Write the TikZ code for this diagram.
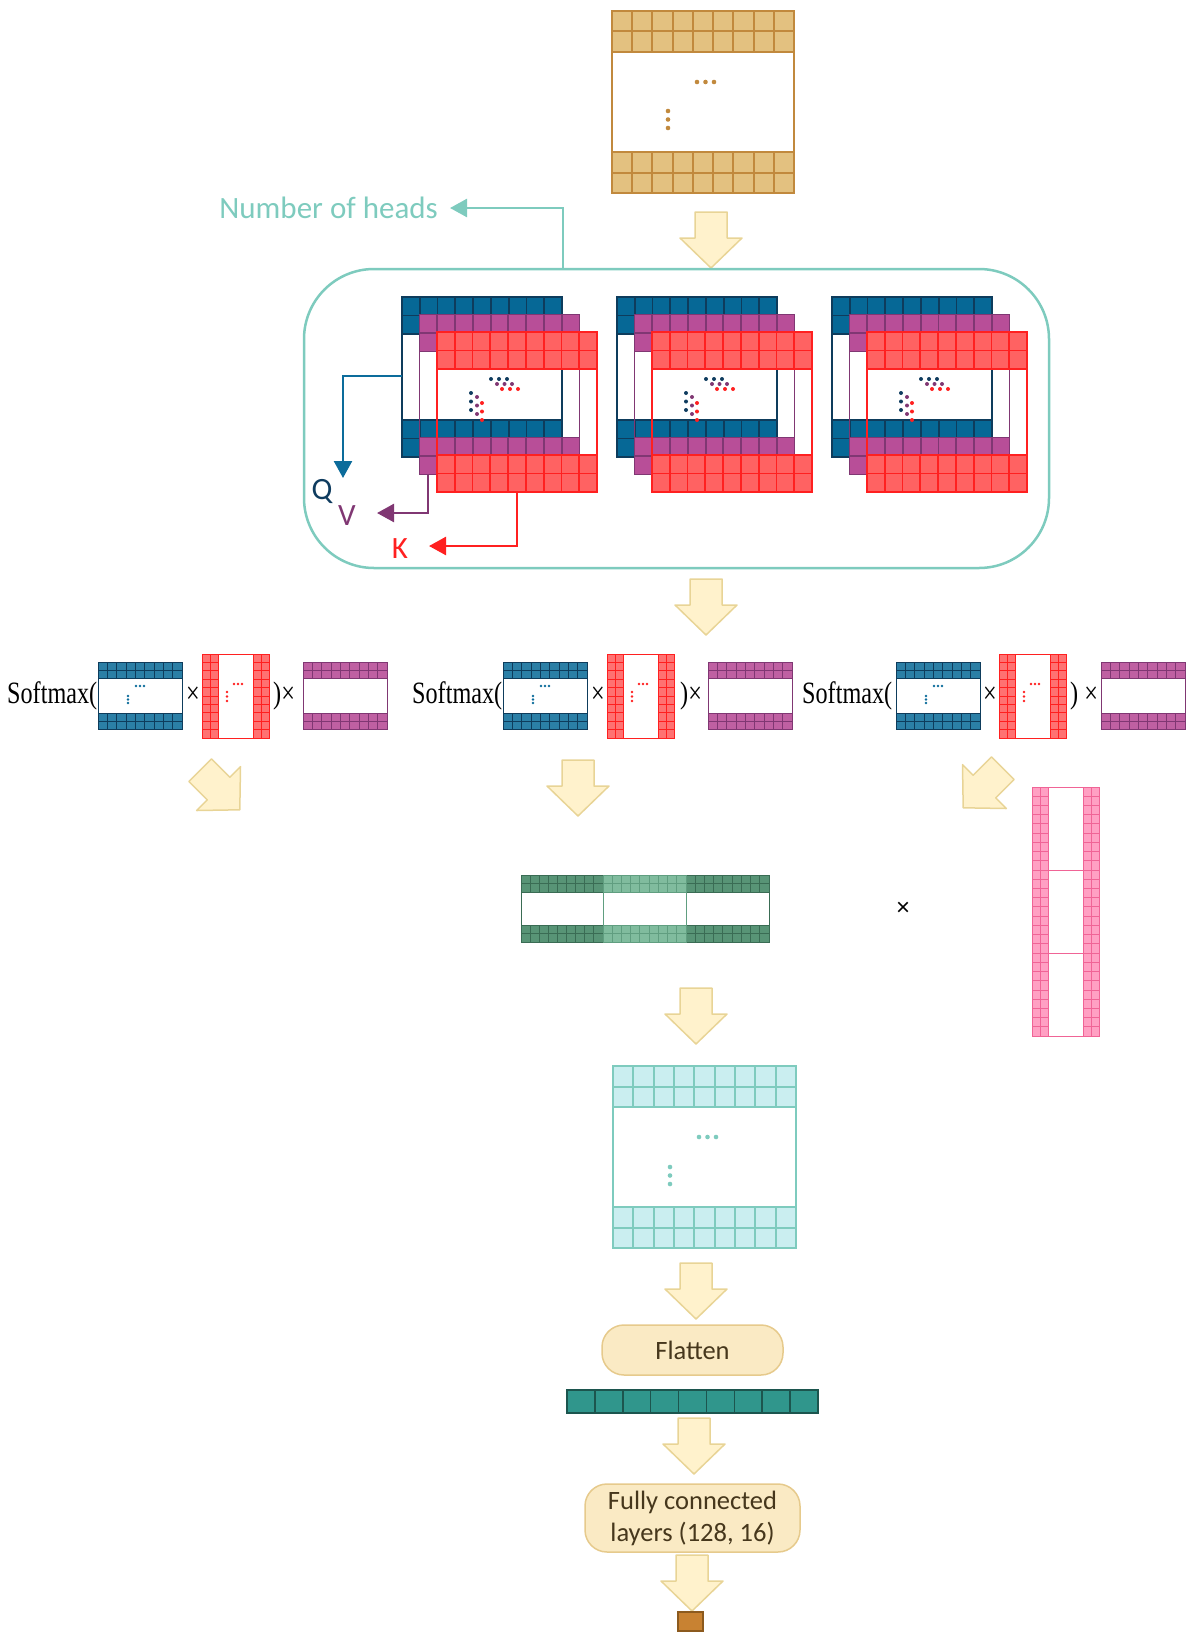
\documentclass[tikz,border=0pt]{standalone}
\usepackage{fontspec}
\setmainfont{Carlito}
\newfontfamily\softfont[FakeStretch=0.78]{Liberation Serif}
\newfontfamily\crossfont{Liberation Sans}
\usetikzlibrary{arrows.meta}

\definecolor{goldfill}{RGB}{227,193,128}
\definecolor{goldline}{RGB}{193,137,61}
\definecolor{bluefill}{RGB}{6,104,150}
\definecolor{blueline}{RGB}{14,60,92}
\definecolor{purpfill}{RGB}{184,78,152}
\definecolor{purpline}{RGB}{128,55,115}
\definecolor{redfill}{RGB}{255,98,98}
\definecolor{redline}{RGB}{255,32,32}
\definecolor{pinkfill}{RGB}{255,160,195}
\definecolor{pinkline}{RGB}{240,100,150}
\definecolor{greenfill}{RGB}{88,148,118}
\definecolor{greenline}{RGB}{58,108,84}
\definecolor{lgreenfill}{RGB}{128,188,158}
\definecolor{lgreenline}{RGB}{96,158,128}
\definecolor{cyanfill}{RGB}{202,238,240}
\definecolor{tealline}{RGB}{126,203,190}
\definecolor{vecfill}{RGB}{48,150,140}
\definecolor{vecline}{RGB}{28,85,78}
\definecolor{outfill}{RGB}{200,130,50}
\definecolor{outline}{RGB}{140,90,30}
\definecolor{arrowfill}{RGB}{255,242,204}
\definecolor{arrowline}{RGB}{232,212,150}
\definecolor{boxfill}{RGB}{250,234,196}
\definecolor{boxline}{RGB}{230,202,140}
\definecolor{boxtext}{RGB}{70,55,28}
\definecolor{qcolor}{RGB}{15,60,95}
\definecolor{qarrow}{RGB}{12,108,155}

% cells: [style] x0 y0 x1 y1 cols rows
\newcommand{\cells}[7][]{%
  \pgfmathsetmacro\cellw{((#4)-(#2))/#6}%
  \pgfmathsetmacro\cellh{((#5)-(#3))/#7}%
  \filldraw[#1] ({#2},{#3}) rectangle ({#4},{#5});
  \foreach \k in {1,...,#6}
    \draw[#1] ({#2+\k*\cellw},{#3}) -- ({#2+\k*\cellw},{#5});
  \foreach \k in {1,...,#7}
    \draw[#1] ({#2},{#3+\k*\cellh}) -- ({#4},{#3+\k*\cellh});
}
% bands on top and bottom: [style] x0 y0 x1 y1 band cols rows
\newcommand{\hmat}[8][]{%
  \cells[#1]{#2}{#3}{#4}{#3+#6}{#7}{#8}
  \cells[#1]{#2}{#5-#6}{#4}{#5}{#7}{#8}
  \draw[#1,fill=none] ({#2},{#3}) rectangle ({#4},{#5});
}
% bands left and right: [style] x0 y0 x1 y1 band cols rows
\newcommand{\vmat}[8][]{%
  \cells[#1]{#2}{#3}{#2+#6}{#5}{#7}{#8}
  \cells[#1]{#4-#6}{#3}{#4}{#5}{#7}{#8}
  \draw[#1,fill=none] ({#2},{#3}) rectangle ({#4},{#5});
}
% block arrow: [angle] x y
\newcommand{\fatarrow}[3][0]{%
  \draw[blockarrow,shift={(#2,#3)},rotate=#1]
    (-16,-28) -- (16,-28) -- (16,-2) -- (31,-2) -- (0,28) -- (-31,-2) -- (-16,-2) -- cycle;
}
% one softmax term: text, Q, times, K, close, V, close text, name
\newcommand{\softgroup}[8]{%
  \node[softtext,anchor=base west] (#8soft) at (#1,703) {Softmax(};
  \hmat[bluesmall]{#2}{662}{#2+84}{729}{16}{9}{2}
  \fill[qarrow] \foreach \px in {38,42,46} {(#2+\px,686) circle[radius=1.3]};
  \fill[qarrow] \foreach \py in {696,699.5,703} {(#2+30,\py) circle[radius=1.3]};
  \node[softtext,anchor=base] (#8times) at (#3,703) {×};
  \vmat[redsmall]{#4}{654}{#4+67}{738}{16}{2}{10}
  \fill[redline] \foreach \px in {32,36,40} {(#4+\px,684) circle[radius=1.3]};
  \fill[redline] \foreach \py in {692,696.5,701} {(#4+25,\py) circle[radius=1.3]};
  \node[softtext,anchor=base west] (#8close) at (#5,703) {#7};
  \hmat[purpsmall]{#6}{662}{#6+84}{729}{16}{9}{2}
}

\begin{document}
\begin{tikzpicture}[x=1pt,y=-1pt,
  every node/.style={inner sep=0pt},
  goldcell/.style={fill=goldfill,draw=goldline,line width=2pt},
  tealcell/.style={fill=cyanfill,draw=tealline,line width=2pt},
  bluecell/.style={fill=bluefill,draw=blueline,line width=1.8pt},
  purpcell/.style={fill=purpfill,draw=purpline,line width=1.8pt},
  redcell/.style={fill=redfill,draw=redline,line width=1.8pt},
  bluesmall/.style={fill=bluefill!85!white,draw=blueline,line width=0.8pt},
  redsmall/.style={fill=redfill!90!white,draw=redline,line width=0.8pt},
  purpsmall/.style={fill=purpfill!90!white,draw=purpline,line width=0.8pt},
  greencell/.style={fill=greenfill,draw=greenline,line width=0.8pt},
  lgreencell/.style={fill=lgreenfill,draw=lgreenline,line width=0.8pt},
  pinkcell/.style={fill=pinkfill,draw=pinkline,line width=0.8pt},
  veccell/.style={fill=vecfill,draw=vecline,line width=1.5pt},
  blockarrow/.style={fill=arrowfill,draw=arrowline,line width=1.5pt,line join=round},
  headbox/.style={draw=tealline,line width=2.5pt,rounded corners=70pt,minimum width=745pt,minimum height=299pt},
  stagebox/.style={draw=boxline,fill=boxfill,line width=1.5pt,rounded corners=22pt,text=boxtext,
    font=\fontsize{26.5}{32}\selectfont,align=center},
  softtext/.style={font=\softfont\fontsize{31}{36}\selectfont},
  labeltext/.style={font=\fontsize{31}{36}\selectfont},
  headarrow/.style={line width=2.5pt,-{Triangle[length=17pt,width=18pt]}},
]
\useasboundingbox (0,0) rectangle (1204,1646);

% input
\hmat[goldcell]{612}{11}{794}{193}{41}{9}{2}
\fill[goldline] \foreach \px in {697,705.5,714} {(\px,82) circle[radius=2.3]};
\fill[goldline] \foreach \py in {111,119.5,128} {(668,\py) circle[radius=2.3]};
\fatarrow{711}{240}

% heads
\node[headbox] (heads) at (676.5,418.5) {};
\node[labeltext,text=tealline,anchor=east,inner xsep=12pt] (nheads) at (450,208) {Number of heads};
\coordinate (nhfoot) at (563,269);
\draw[headarrow,tealline] (nhfoot) |- (nheads.east);

\foreach \ox in {0,215,430}{
  \hmat[bluecell]{402+\ox}{297}{562+\ox}{457}{37}{9}{2}
  \hmat[purpcell]{419.5+\ox}{314.5}{579.5+\ox}{474.5}{37}{9}{2}
  \hmat[redcell]{437+\ox}{332}{597+\ox}{492}{37}{9}{2}
  \fill[qcolor] \foreach \px in {491,499,507} {(\px+\ox,379) circle[radius=2]};
  \fill[purpline] \foreach \px in {497,504.5,512} {(\px+\ox,384) circle[radius=2]};
  \fill[redline] \foreach \px in {502,510,518} {(\px+\ox,389) circle[radius=2]};
  \fill[qcolor] \foreach \py in {393,401.5,410} {(471+\ox,\py) circle[radius=2]};
  \fill[purpline] \foreach \py in {397,405.5,414} {(477+\ox,\py) circle[radius=2]};
  \fill[redline] \foreach \py in {403,411.5,420} {(482+\ox,\py) circle[radius=2]};
}

\node[labeltext,text=qcolor] (qlabel) at (322,491) {Q};
\node[labeltext,text=purpline] (vlabel) at (347,516) {V};
\node[labeltext,text=redline] (klabel) at (400,549) {K};
\coordinate (qfrom) at (402,376);
\coordinate (qto) at (343,478);
\coordinate (vfrom) at (428,474.5);
\coordinate (vto) at (377,513);
\coordinate (kfrom) at (517,492);
\coordinate (kto) at (429,546);
\draw[headarrow,qarrow] (qfrom) -| (qto);
\draw[headarrow,purpline] (vfrom) |- (vto);
\draw[headarrow,redline] (kfrom) |- (kto);

\fatarrow{706}{607}

% attention per head
\softgroup{7}{98}{193}{202}{273}{303}{)×}{a}
\softgroup{412}{503}{598}{607}{680}{708}{)×}{b}
\softgroup{802}{896}{990}{999}{1070}{1101}{) ×}{c}

\fatarrow[45]{220}{790}
\fatarrow{578}{788}
\fatarrow[-45]{983}{788}

% concat times output weights
\hmat[greencell]{521}{875}{603}{942}{17}{9}{2}
\hmat[greencell]{686}{875}{769}{942}{17}{9}{2}
\hmat[lgreencell]{603}{875}{686}{942}{17}{9}{2}
\node[font=\crossfont\fontsize{24}{24}\selectfont] (crossop) at (903,909) {×};
\vmat[pinkcell]{1032}{787}{1099}{1036}{16}{2}{27}
\draw[pinkcell] (1048,870) -- (1083,870) (1048,953) -- (1083,953);

\fatarrow{696}{1016}

% output of attention
\hmat[tealcell]{613}{1066}{796}{1248}{41}{9}{2}
\fill[tealline] \foreach \px in {699,707.5,716} {(\px,1137) circle[radius=2.3]};
\fill[tealline] \foreach \py in {1167,1175.5,1184} {(670,\py) circle[radius=2.3]};

\fatarrow{696}{1291}
\node[stagebox,minimum width=181pt,minimum height=50pt] (flatten) at (692.5,1350) {Flatten};
\cells[veccell]{567}{1390}{818}{1413}{9}{1}
\fatarrow{694}{1446}
\node[stagebox,minimum width=215pt,minimum height=68pt] (fc) at (692.5,1518) {Fully connected\\layers (128, 16)};
\fatarrow{692}{1583}
\draw[fill=outfill,draw=outline,line width=1.5pt] (678,1612) rectangle (703,1631);
\end{tikzpicture}
\end{document}
